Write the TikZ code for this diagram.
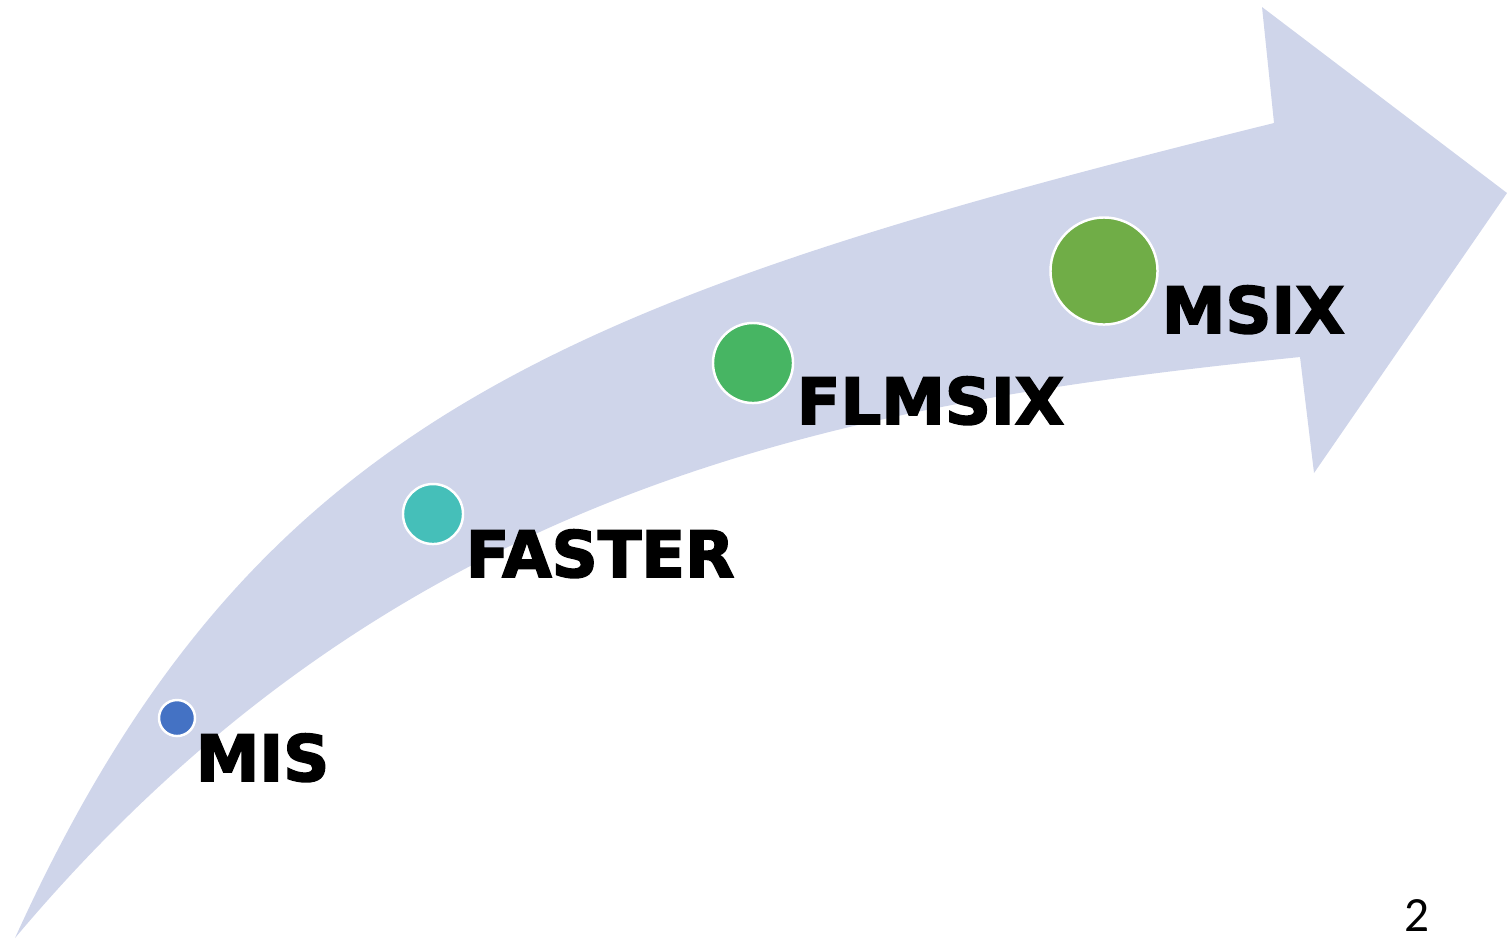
\documentclass[tikz,border=0pt]{standalone}
\usepackage{fontspec}
\usepackage{xcolor}
\usepackage{tikz}
\newfontfamily\heavyfont[BoldFeatures={FakeBold=2.5}]{DejaVu Sans}
\newfontfamily\pagefont{Carlito}
\definecolor{bandfill}{HTML}{CFD5EA}
\definecolor{misblue}{HTML}{4472C4}
\definecolor{fasterteal}{HTML}{45BFB9}
\definecolor{flmsixgreen}{HTML}{47B563}
\definecolor{msixgreen}{HTML}{70AD47}
\tikzset{
  dot/.style={circle,draw=white,line width=0.7pt,inner sep=0pt},
  lbl/.style={anchor=base west,inner sep=0pt,font=\heavyfont\bfseries\fontsize{18.2pt}{20pt}\selectfont}
}

\begin{document}
\begin{tikzpicture}[x=0.01cm,y=-0.01cm]
\useasboundingbox (0,0) rectangle (1507,938);

% curved band with the arrow head
\fill[bandfill] (15,938) .. controls (250,420) and (560,300) .. (1274,123)
  -- (1262,7) -- (1507,193) -- (1314,473) -- (1300,357)
  .. controls (850,403) and (400,480) .. (15,938) -- cycle;

\node[dot,fill=misblue,minimum size=0.36cm] (dotmis) at (177,718) {};
\node[dot,fill=fasterteal,minimum size=0.6cm] (dotfaster) at (433,514) {};
\node[dot,fill=flmsixgreen,minimum size=0.8cm] (dotflmsix) at (753,363) {};
\node[dot,fill=msixgreen,minimum size=1.07cm] (dotmsix) at (1104,271) {};

\node[lbl] (lblmis) at (195,781) {MIS};
\node[lbl] (lblfaster) at (465,577) {FASTER};
\node[lbl] (lblflmsix) at (796,424) {FLMSIX};
\node[lbl] (lblmsix) at (1161,333) {MSIX};

\node[font=\pagefont\fontsize{14pt}{16pt}\selectfont,inner sep=0pt] (pagenum) at (1417,915) {2};
\end{tikzpicture}
\end{document}
